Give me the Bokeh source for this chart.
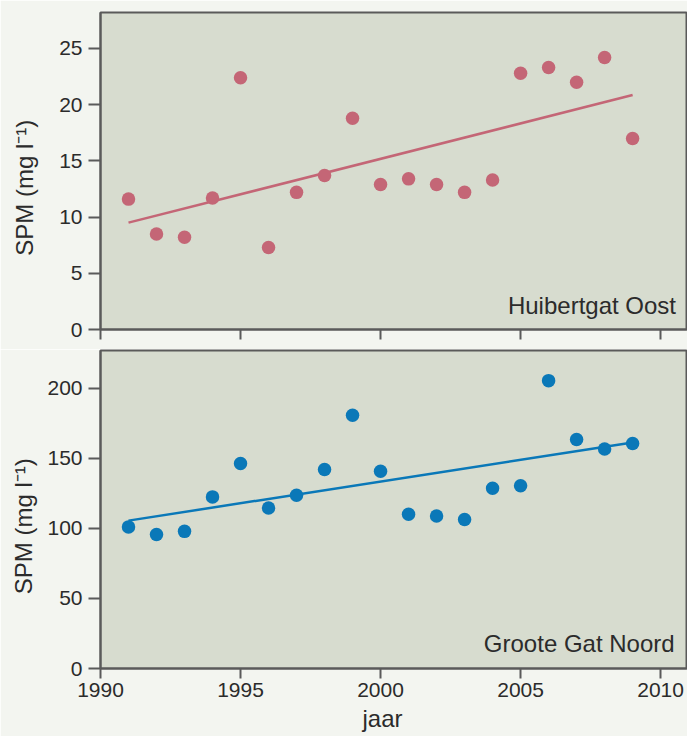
import numpy as np
from bokeh.plotting import figure
from bokeh.layouts import column
from bokeh.models import Range1d, Label, FixedTicker, Title
from bokeh.embed import file_html
from bokeh.resources import INLINE

# Yearly mean suspended particulate matter (SPM) at two stations
years = list(range(1991, 2010))
huibertgat_oost = [11.6, 8.5, 8.2, 11.7, 22.4, 7.3, 12.2, 13.7, 18.8, 12.9,
                   13.4, 12.9, 12.2, 13.3, 22.8, 23.3, 22.0, 24.2, 17.0]
groote_gat_noord = [101.0, 95.6, 97.8, 122.4, 146.2, 114.4, 123.6, 142.0, 180.6, 140.7,
                    110.0, 108.7, 106.3, 128.6, 130.3, 205.3, 163.3, 156.6, 160.4]

x_ticks = [1990, 1995, 2000, 2005, 2010]
top_ticks = [0, 5, 10, 15, 20, 25]
bottom_ticks = [0, 50, 100, 150, 200]

FONT = "Liberation Sans"
PAGE_BG = "#f3f5f0"
PLOT_BG = "#d7dccf"
FRAME = "#5a5a5a"
TEXT = "#2b2b2b"
PINK = "#c46676"
BLUE = "#0a78b8"

# trailing no-break spaces push the rotated label a little towards the bottom
Y_LABEL = "SPM (mg l\u207b\u00b9)" + "\u00a0" * 5


def style(p, yticks, label_standoff):
    p.background_fill_color = PLOT_BG
    p.border_fill_color = PAGE_BG
    p.outline_line_color = FRAME
    p.outline_line_width = 2
    p.grid.visible = False
    for ax in (p.xaxis[0], p.yaxis[0]):
        ax.axis_line_color = FRAME
        ax.axis_line_width = 2
        ax.major_tick_line_color = FRAME
        ax.major_tick_line_width = 2
        ax.major_tick_in = 0
        ax.minor_tick_line_color = None
        ax.major_label_text_font = FONT
        ax.major_label_text_font_size = "21px"
        ax.major_label_text_color = TEXT
        ax.major_label_standoff = 4
    p.xaxis.ticker = FixedTicker(ticks=x_ticks)
    p.xaxis.major_tick_out = 10
    p.yaxis.ticker = FixedTicker(ticks=yticks)
    p.yaxis.major_tick_out = 12
    p.yaxis.major_label_standoff = 6
    p.yaxis.axis_label = Y_LABEL
    p.yaxis.axis_label_text_font = FONT
    p.yaxis.axis_label_text_font_size = "24px"
    p.yaxis.axis_label_text_font_style = "normal"
    p.yaxis.axis_label_text_color = TEXT
    p.yaxis.axis_label_standoff = label_standoff


def series(p, values, color):
    slope, intercept = np.polyfit(years, values, 1)
    ends = [years[0], years[-1]]
    p.line(ends, [slope * e + intercept for e in ends], line_color=color, line_width=2.5)
    p.scatter(years, values, size=13.5, fill_color=color, line_color=None)


top = figure(width=687, height=349, output_backend="svg", toolbar_location=None,
             x_range=Range1d(1990, 2010.96), y_range=Range1d(0, 28.2),
             min_border_left=100, min_border_right=0, min_border_top=12, min_border_bottom=20)
style(top, top_ticks, 18)
# the upper panel shares the years of the lower one: ticks only, no labels
top.xaxis.major_label_text_font_size = "0px"
top.xaxis.major_label_text_color = None
series(top, huibertgat_oost, PINK)
top.add_layout(Label(x=2010.55, y=2.1, text="Huibertgat Oost", text_align="right",
                     text_baseline="alphabetic", text_font=FONT, text_font_size="24px",
                     text_color=TEXT))

bottom = figure(width=687, height=387, output_backend="svg", toolbar_location=None,
                x_range=Range1d(1990, 2010.96), y_range=Range1d(0, 226.8),
                min_border_left=100, min_border_right=0, min_border_top=1, min_border_bottom=68)
style(bottom, bottom_ticks, 7)
series(bottom, groote_gat_noord, BLUE)
bottom.add_layout(Label(x=2010.5, y=17.6, text="Groote Gat Noord", text_align="right",
                        text_baseline="alphabetic", text_font=FONT, text_font_size="24px",
                        text_color=TEXT))
# x-axis title, set left so that it sits under the year 2000
bottom.add_layout(Title(text="jaar", align="left", offset=262, standoff=7,
                        text_font=FONT, text_font_size="24px", text_font_style="normal",
                        text_color=TEXT), "below")

layout = column(top, bottom, spacing=0)
open("out.html", "w").write(file_html(layout, INLINE))
